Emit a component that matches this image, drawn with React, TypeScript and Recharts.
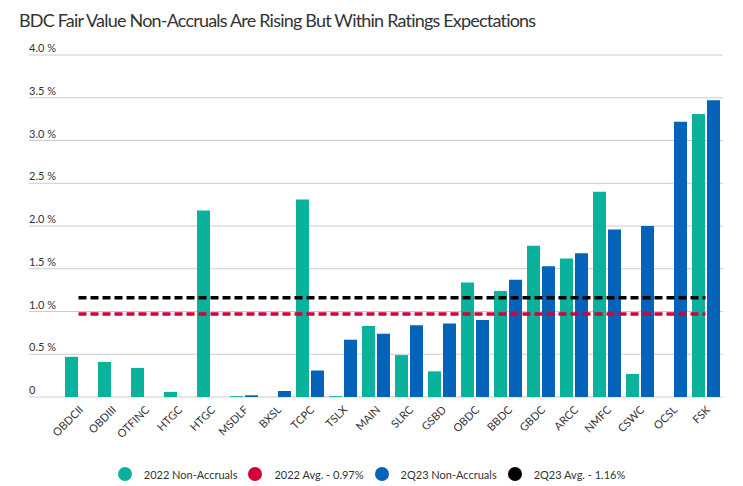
import React from "react"
import { ComposedChart, Bar, Line, XAxis, YAxis, CartesianGrid, Legend } from "recharts"

const bdcs = ["OBDCII", "OBDIII", "OTFINC", "HTGC", "HTGC", "MSDLF", "BXSL", "TCPC", "TSLX", "MAIN", "SLRC", "GSBD", "OBDC", "BBDC", "GBDC", "ARCC", "NMFC", "CSWC", "OCSL", "FSK"]
const nonAccruals2022 = [0.47, 0.41, 0.34, 0.06, 2.18, 0.01, null, 2.31, 0.01, 0.83, 0.49, 0.3, 1.34, 1.24, 1.77, 1.62, 2.4, 0.27, null, 3.31]
const nonAccruals2Q23 = [null, null, null, null, null, 0.02, 0.07, 0.31, 0.67, 0.74, 0.84, 0.86, 0.9, 1.37, 1.53, 1.68, 1.96, 2.0, 3.22, 3.47]
const avg2022 = 0.97
const avg2Q23 = 1.16
const yTicks = [0, 0.5, 1, 1.5, 2, 2.5, 3, 3.5, 4]

const data = bdcs.map((name, i) => ({
  name,
  na2022: nonAccruals2022[i],
  na2Q23: nonAccruals2Q23[i],
  avg2022,
  avg2Q23,
}))

const FONT = "Lato, 'Open Sans', sans-serif"
const legendOrder = ["na2022", "avg2022", "na2Q23", "avg2Q23"]

function YTick({ x, y, payload }: any) {
  const v = payload.value
  return (
    <text x={x} y={y - 3} fontSize={11} fill="#333" fontFamily={FONT} textAnchor="start">
      {v === 0 ? "0" : `${v.toFixed(1)} %`}
    </text>
  )
}

function XTick({ x, y, payload }: any) {
  return (
    <text
      x={x}
      y={y}
      dy="0.71em"
      fontSize={11}
      fill="#333"
      fontFamily={FONT}
      textAnchor="end"
      transform={`rotate(-45 ${x} ${y})`}
    >
      {payload.value}
    </text>
  )
}

function LegendContent({ payload }: any) {
  const items = [...(payload ?? [])].sort(
    (a, b) => legendOrder.indexOf(a.dataKey) - legendOrder.indexOf(b.dataKey)
  )
  return (
    <div style={{ display: "flex", justifyContent: "center", alignItems: "center", height: 24, gap: 11, fontFamily: FONT, fontSize: 11, color: "#333" }}>
      {items.map((it: any) => (
        <span key={it.dataKey} style={{ display: "flex", alignItems: "center" }}>
          <span style={{ width: 14, height: 14, borderRadius: "50%", background: it.color, marginRight: 12, display: "inline-block" }} />
          {it.value}
        </span>
      ))}
    </div>
  )
}

export default function App() {
  return (
    <div style={{ position: "absolute", left: 0, top: 0, width: 743, height: 486, background: "#fff" }}>
      <div style={{ position: "absolute", left: 19, top: 10, fontFamily: FONT, fontSize: 18, lineHeight: 1.2, letterSpacing: -0.8, color: "#333", whiteSpace: "nowrap", zIndex: 1 }}>
        BDC Fair Value Non-Accruals Are Rising But Within Ratings Expectations
      </div>
      <ComposedChart width={743} height={486} data={data} margin={{ top: 55, right: 20, left: 28, bottom: 0 }} barSize={13} barGap={2}>
        <CartesianGrid vertical={false} stroke="#ccc" />
        <XAxis
          dataKey="name"
          interval={0}
          height={65}
          tickLine={false}
          axisLine={false}
          padding={{ left: 33, right: 1 }}
          tick={<XTick />}
        />
        <YAxis
          domain={[0, 4]}
          ticks={yTicks}
          interval={0}
          width={1}
          tickLine={false}
          axisLine={false}
          tickSize={0}
          tickMargin={0}
          tick={<YTick />}
        />
        <Legend verticalAlign="bottom" content={<LegendContent />} wrapperStyle={{ left: 0, width: 743 }} />
        <Bar dataKey="na2022" name="2022 Non-Accruals" fill="#0bb29b" isAnimationActive={false} />
        <Bar dataKey="na2Q23" name="2Q23 Non-Accruals" fill="#0563ba" isAnimationActive={false} />
        <Line dataKey="avg2022" name="2022 Avg. - 0.97%" stroke="#d50038" strokeWidth={3.5} strokeDasharray="8 4" dot={false} activeDot={false} isAnimationActive={false} />
        <Line dataKey="avg2Q23" name="2Q23 Avg. - 1.16%" stroke="#000" strokeWidth={3.5} strokeDasharray="8 4" dot={false} activeDot={false} isAnimationActive={false} />
      </ComposedChart>
    </div>
  )
}
